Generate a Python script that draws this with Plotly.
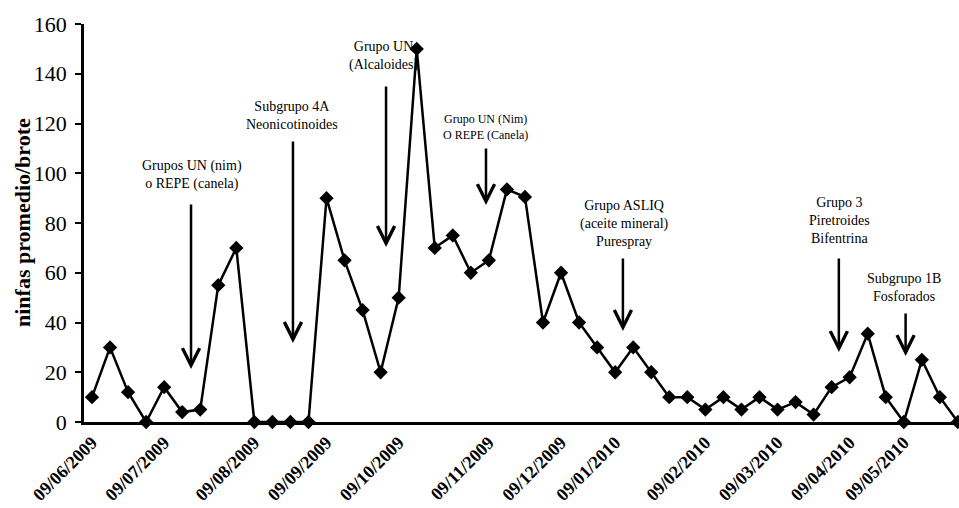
import plotly.graph_objects as go

# ---- data ----
values = [10, 30, 12, 0, 14, 4, 5, 55, 70, 0, 0, 0, 0, 90, 65, 45, 20, 50, 150,
          70, 75, 60, 65, 93.5, 90.5, 40, 60, 40, 30, 20, 30, 20, 10, 10, 5, 10,
          5, 10, 5, 8, 3, 14, 18, 35.5, 10, 0, 25, 10, 0]
tick_index = [0, 4, 9, 13, 17, 22, 26, 29, 34, 38, 42, 45]
tick_labels = ["09/06/2009", "09/07/2009", "09/08/2009", "09/09/2009", "09/10/2009",
               "09/11/2009", "09/12/2009", "09/01/2010", "09/02/2010", "09/03/2010",
               "09/04/2010", "09/05/2010"]
y_ticks = [0, 20, 40, 60, 80, 100, 120, 140, 160]

# treatment annotations: text, text x (index), text y, arrow x, arrow tail y, arrow tip y, font size
ann_texts = ["Grupos UN (nim)<br>o REPE (canela)",
             "Subgrupo 4A<br>Neonicotinoides",
             "Grupo UN<br>(Alcaloides)",
             "Grupo UN (Nim)<br>O REPE (Canela)",
             "Grupo ASLIQ<br>(aceite mineral)<br>Purespray",
             "Grupo 3<br>Piretroides<br>Bifentrina",
             "Subgrupo 1B<br>Fosforados"]
ann_text_x = [5.55, 11.1, 16.2, 21.8, 29.5, 41.45, 45.0]
ann_text_y = [99.1, 123.4, 147.1, 118.4, 80.0, 81.0, 53.9]
ann_arrow_x = [5.49, 11.14, 16.3, 21.84, 29.43, 41.4, 45.1]
ann_tail_y = [88.0, 113.4, 135.5, 110.6, 66.3, 66.3, 44.2]
ann_tip_y = [21.3, 31.8, 70.4, 87.2, 36.6, 28.1, 26.5]
ann_size = [14, 14, 14, 12, 14, 14, 14]

x_idx = list(range(len(values)))

fig = go.Figure()
fig.add_trace(go.Scatter(
    x=x_idx, y=values, mode="lines+markers",
    line=dict(color="black", width=2.5),
    marker=dict(symbol="diamond", size=11, color="black"),
    cliponaxis=False, showlegend=False,
))

serif = "Liberation Serif, Times New Roman, serif"

annotations = []
for t, tx, ty, axx, tail, tip, fs in zip(ann_texts, ann_text_x, ann_text_y,
                                         ann_arrow_x, ann_tail_y, ann_tip_y, ann_size):
    annotations.append(dict(x=tx, y=ty, xref="x", yref="y", text=t, showarrow=False,
                            font=dict(family=serif, size=fs, color="black"),
                            align="center", xanchor="center", yanchor="middle"))
    annotations.append(dict(x=axx, y=tip, xref="x", yref="y", ax=axx, ay=tail,
                            axref="x", ayref="y", text="", showarrow=True,
                            arrowhead=5, arrowsize=1.35, arrowwidth=2.5,
                            arrowcolor="black", standoff=0, startstandoff=0))

annotations.append(dict(x=0, y=0.5, xref="paper", yref="paper", xshift=-62,
                        text="<b>ninfas promedio/brote</b>", textangle=-90,
                        showarrow=False, xanchor="center", yanchor="middle",
                        font=dict(family=serif, size=22, color="black")))

fig.update_layout(
    width=959, height=508,
    margin=dict(l=84, r=0, t=24, b=86),
    paper_bgcolor="white", plot_bgcolor="white",
    annotations=annotations,
    xaxis=dict(range=[-0.443, 48.06], tickmode="array", tickvals=tick_index,
               ticktext=["<b>%s</b>" % s for s in tick_labels], tickangle=-45,
               showline=True, linecolor="black", linewidth=3, showgrid=False,
               zeroline=False, ticks="", automargin=False,
               tickfont=dict(family=serif, size=18, color="black")),
    yaxis=dict(range=[0, 160], tickmode="array", tickvals=y_ticks,
               showline=True, linecolor="black", linewidth=2.5, showgrid=False,
               zeroline=False, ticks="outside", ticklen=6, tickwidth=2,
               tickcolor="black", automargin=False, ticklabelstandoff=4,
               tickfont=dict(family=serif, size=22, color="black")),
)

fig.write_html("out.html", config={"displayModeBar": False},
               post_script="document.body.style.margin='0';document.body.style.overflow='hidden';")
